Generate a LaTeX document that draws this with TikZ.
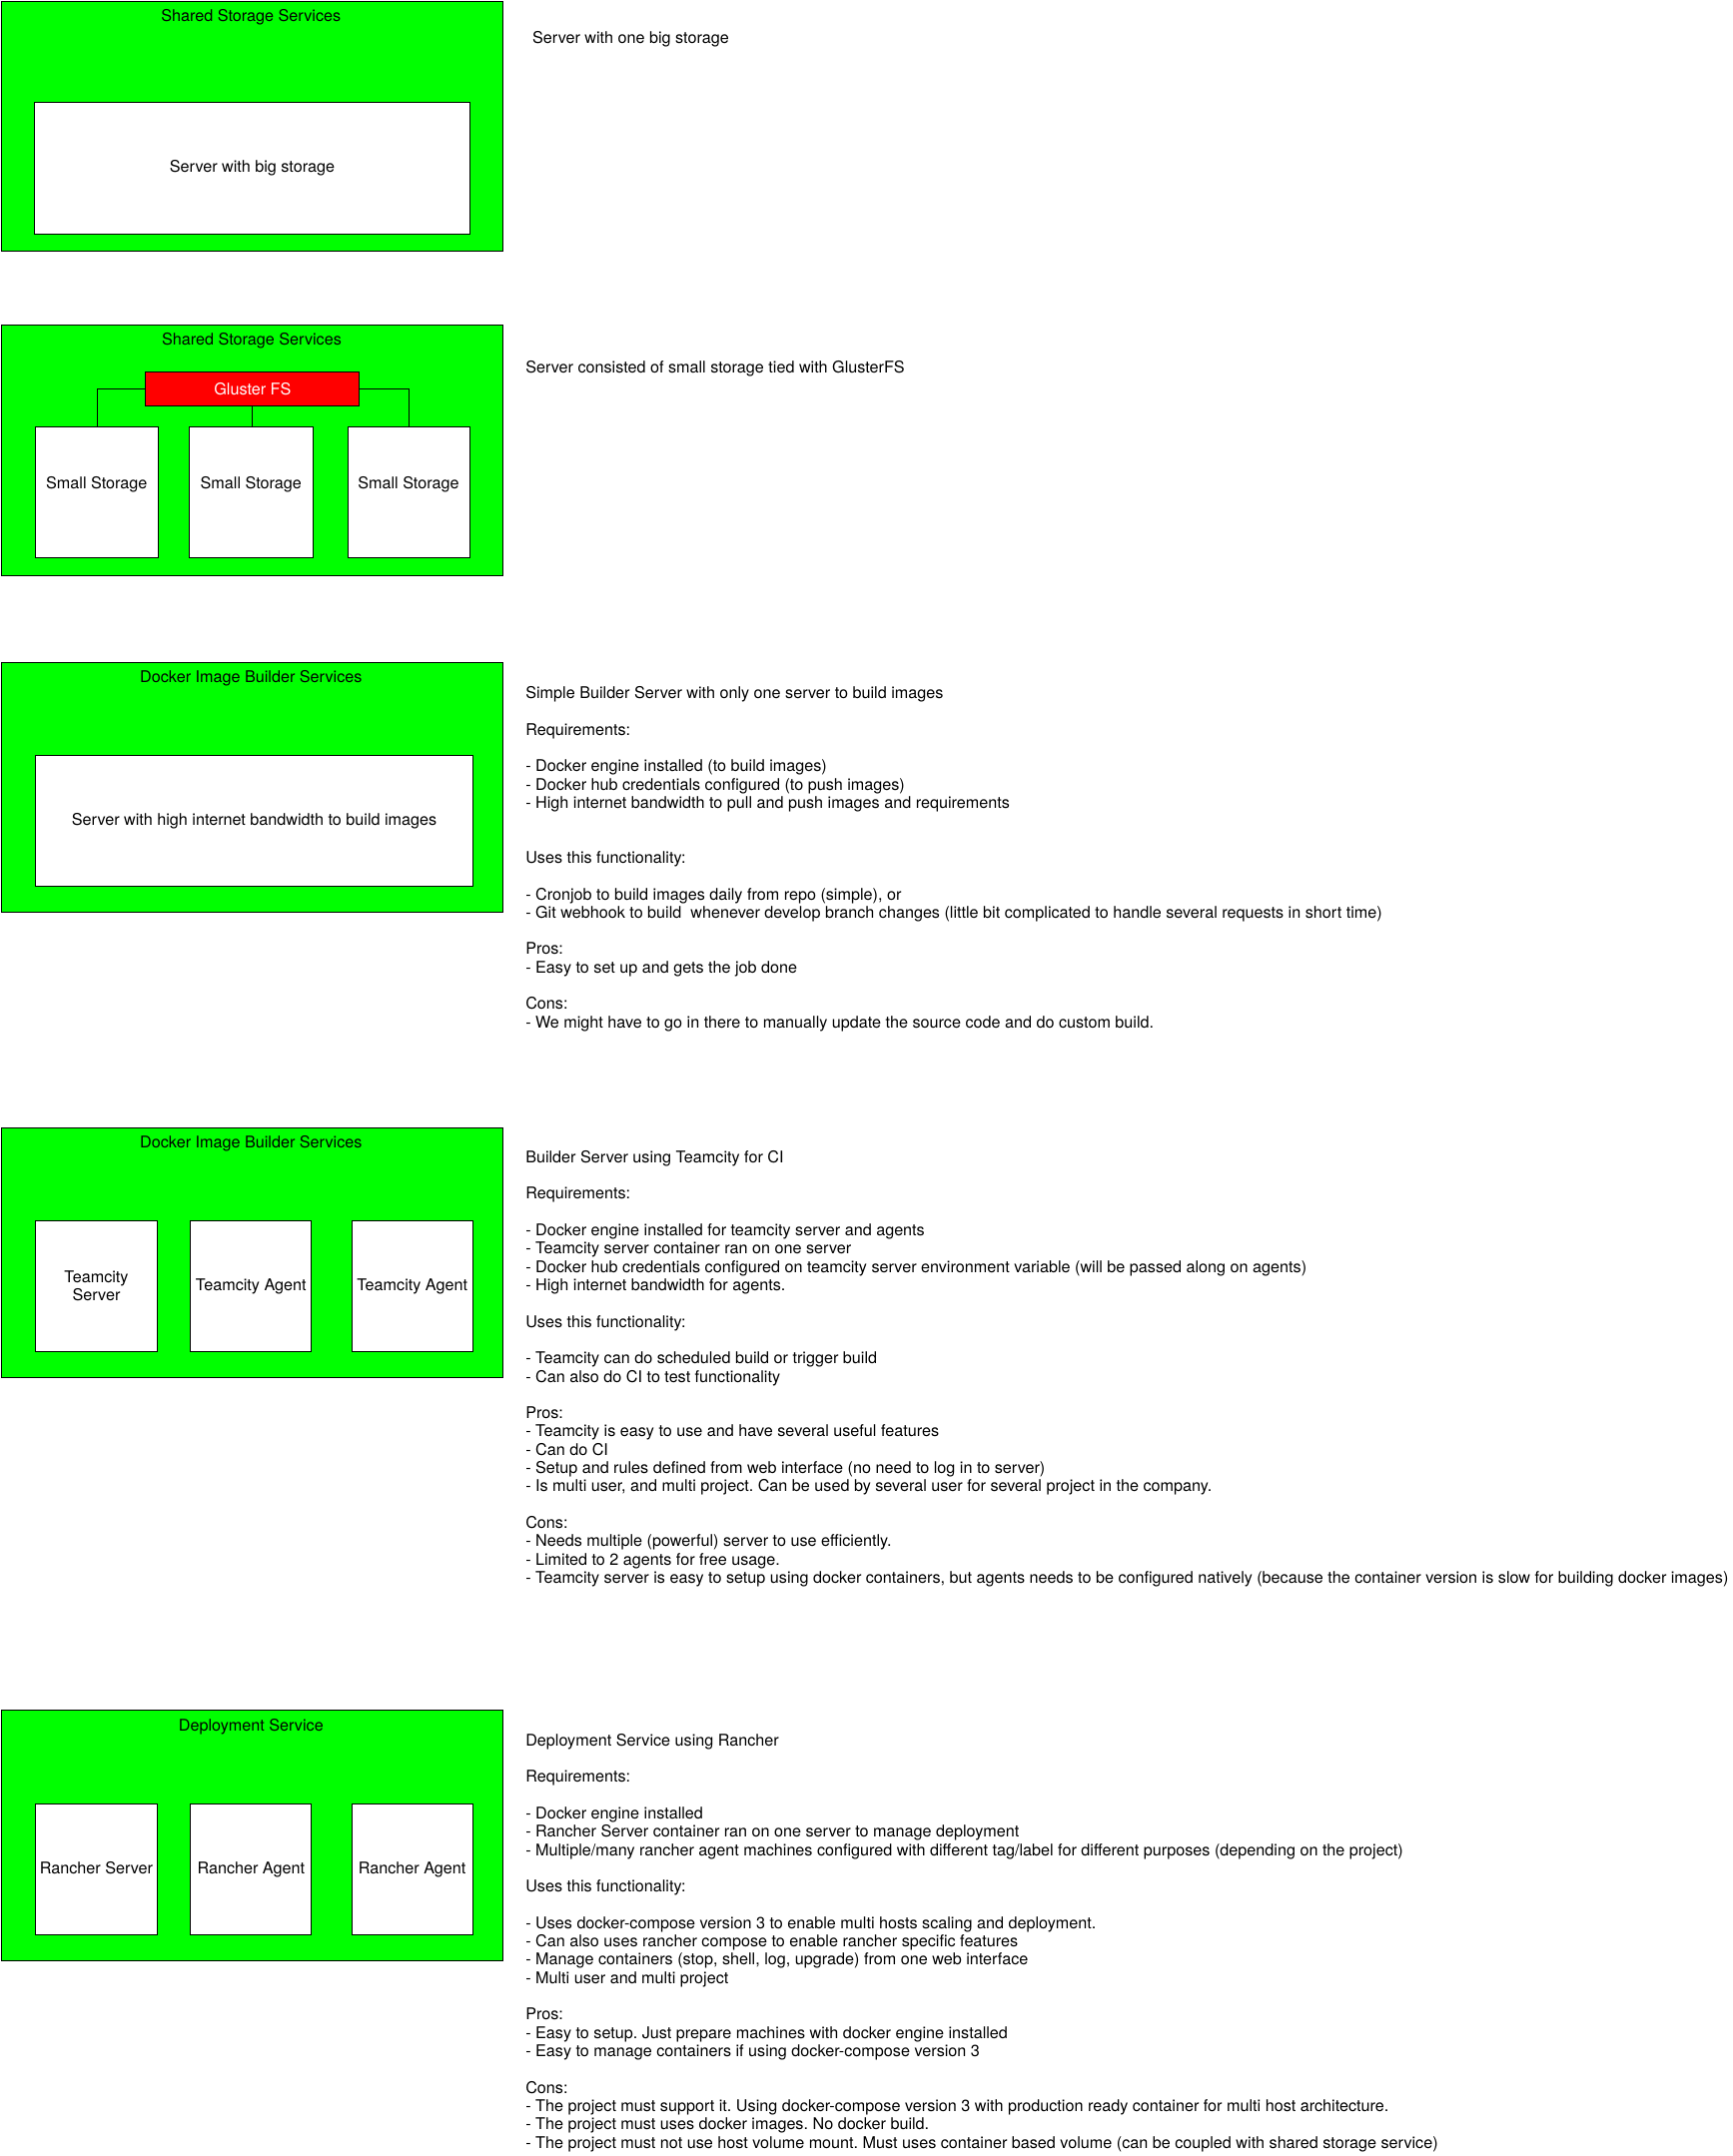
\documentclass[tikz,border=0pt]{standalone}
\usepackage{fontspec}
\setmainfont{TeX Gyre Heros}
\frenchspacing
\definecolor{srvgreen}{HTML}{00FF00}
\definecolor{glred}{HTML}{FF0000}
\newcommand{\dfont}{\fontsize{11.75pt}{13.3pt}\selectfont}
\newcommand{\bl}{\\[13.3pt]}
\newcommand{\lstrut}{\vphantom{p}}
\begin{document}
\begin{tikzpicture}[x=1pt,y=-1pt,
  every node/.style={font=\dfont},
  outerbox/.style={draw=black, line width=0.75pt, fill=srvgreen, inner sep=0pt, anchor=north west},
  inbox/.style={draw=black, line width=0.75pt, fill=white, inner sep=0pt, anchor=north west, align=center},
  redbox/.style={draw=black, line width=0.75pt, fill=glred, text=white, inner sep=0pt, anchor=north west},
  boxtitle/.style={anchor=base, inner sep=0pt},
  lbl/.style={anchor=base, inner sep=0pt},
  desc/.style={anchor=north west, align=left, inner sep=0pt},
  single/.style={anchor=base west, inner sep=0pt},
  conn/.style={draw=black, line width=0.75pt}]
\useasboundingbox (0,0) rectangle (1260,1568);

% ---------- Section 1 ----------
\node[outerbox, minimum width=364.5pt, minimum height=181.5pt] (c1) at (0.5,0.5) {};
\node[boxtitle] (c1t) at (182.5,15.6) {Shared Storage Services};
\node[inbox, minimum width=316pt, minimum height=96pt] (s1) at (25,74) {\lstrut Server with big storage};
\node[single] (t1) at (387,31.6) {Server with one big storage};

% ---------- Section 2 ----------
\node[outerbox, minimum width=364pt, minimum height=182pt] (c2) at (1,236) {};
\node[boxtitle] (c2t) at (183,251) {Shared Storage Services};
\node[redbox, minimum width=155.5pt, minimum height=24.6pt] (g) at (105.5,270.4) {Gluster FS};
\node[inbox, minimum width=89.3pt, minimum height=95.5pt] (ss1) at (25.7,310) {};
\node[inbox, minimum width=90pt, minimum height=95.5pt] (ss2) at (137.5,310) {};
\node[inbox, minimum width=89.1pt, minimum height=95.5pt] (ss3) at (252.5,310) {};
\node[lbl] (ss1l) at (70.3,355.5) {Small Storage};
\node[lbl] (ss2l) at (182.5,355.5) {Small Storage};
\node[lbl] (ss3l) at (297,355.5) {Small Storage};
\draw[conn] (g.west) -| (ss1.north);
\draw[conn] (g.south) -- (g.south |- ss2.north);
\draw[conn] (g.east) -| (ss3.north);
\node[single] (t2) at (382,271.2) {Server consisted of small storage tied with GlusterFS};

% ---------- Section 3 ----------
\node[outerbox, minimum width=364.5pt, minimum height=181.6pt] (c3) at (0.5,481.7) {};
\node[boxtitle] (c3t) at (182.5,496.1) {Docker Image Builder Services};
\node[inbox, minimum width=317.6pt, minimum height=95.6pt] (s3) at (25.7,548.8) {\lstrut Server with high internet bandwidth to build images};
\node[desc] (t3) at (382,499.1) {%
Simple Builder Server with only one server to build images\bl
Requirements:\bl
- Docker engine installed (to build images)\\
- Docker hub credentials configured (to push images)\\
- High internet bandwidth to pull and push images and requirements\\[26.6pt]
Uses this functionality:\bl
- Cronjob to build images daily from repo (simple), or\\
- Git webhook to build~~whenever develop branch changes (little bit complicated to handle several requests in short time)\bl
Pros:\\
- Easy to set up and gets the job done\bl
Cons:\\
- We might have to go in there to manually update the source code and do custom build.};

% ---------- Section 4 ----------
\node[outerbox, minimum width=364.5pt, minimum height=181.6pt] (c4) at (0.5,820.1) {};
\node[boxtitle] (c4t) at (182.5,835) {Docker Image Builder Services};
\node[inbox, minimum width=88.2pt, minimum height=95.6pt] (tc1) at (25.6,887.2) {Teamcity\\Server};
\node[inbox, minimum width=87.9pt, minimum height=95.6pt] (tc2) at (138.2,887.2) {\lstrut Teamcity Agent};
\node[inbox, minimum width=87.9pt, minimum height=95.6pt] (tc3) at (255.4,887.2) {\lstrut Teamcity Agent};
\node[desc] (t4) at (382,836.6) {%
Builder Server using Teamcity for CI\bl
Requirements:\bl
- Docker engine installed for teamcity server and agents\\
- Teamcity server container ran on one server\\
- Docker hub credentials configured on teamcity server environment variable (will be passed along on agents)\\
- High internet bandwidth for agents.\bl
Uses this functionality:\bl
- Teamcity can do scheduled build or trigger build\\
- Can also do CI to test functionality\bl
Pros:\\
- Teamcity is easy to use and have several useful features\\
- Can do CI\\
- Setup and rules defined from web interface (no need to log in to server)\\
- Is multi user, and multi project. Can be used by several user for several project in the company.\bl
Cons:\\
- Needs multiple (powerful) server to use efficiently.\\
- Limited to 2 agents for free usage.\\
- Teamcity server is easy to setup using docker containers, but agents needs to be configured natively (because the container version is slow for building docker images)};

% ---------- Section 5 ----------
\node[outerbox, minimum width=364.5pt, minimum height=182.3pt] (c5) at (0.5,1243.5) {};
\node[boxtitle] (c5t) at (182.5,1258.6) {Deployment Service};
\node[inbox, minimum width=88.2pt, minimum height=95.6pt] (r1) at (25.6,1311.3) {\lstrut Rancher Server};
\node[inbox, minimum width=87.9pt, minimum height=95.6pt] (r2) at (138.2,1311.3) {\lstrut Rancher Agent};
\node[inbox, minimum width=87.9pt, minimum height=95.6pt] (r3) at (255.4,1311.3) {\lstrut Rancher Agent};
\node[desc] (t5) at (382,1260.6) {%
Deployment Service using Rancher\bl
Requirements:\bl
- Docker engine installed\\
- Rancher Server container ran on one server to manage deployment\\
- Multiple/many rancher agent machines configured with different tag/label for different purposes (depending on the project)\bl
Uses this functionality:\bl
- Uses docker-compose version 3 to enable multi hosts scaling and deployment.\\
- Can also uses rancher compose to enable rancher specific features\\
- Manage containers (stop, shell, log, upgrade) from one web interface\\
- Multi user and multi project\bl
Pros:\\
- Easy to setup. Just prepare machines with docker engine installed\\
- Easy to manage containers if using docker-compose version 3\bl
Cons:\\
- The project must support it. Using docker-compose version 3 with production ready container for multi host architecture.\\
- The project must uses docker images. No docker build.\\
- The project must not use host volume mount. Must uses container based volume (can be coupled with shared storage service)};
\end{tikzpicture}
\end{document}
